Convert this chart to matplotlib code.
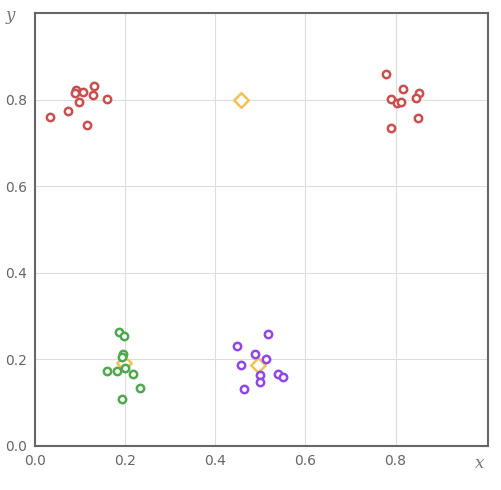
import matplotlib.pyplot as plt
import numpy as np

# cluster points
red_left_x = [0.033, 0.074, 0.091, 0.089, 0.107, 0.098, 0.131, 0.129, 0.159, 0.116]
red_left_y = [0.759, 0.774, 0.822, 0.815, 0.817, 0.795, 0.831, 0.811, 0.802, 0.741]
red_right_x = [0.778, 0.817, 0.852, 0.846, 0.789, 0.803, 0.811, 0.850, 0.791]
red_right_y = [0.859, 0.825, 0.815, 0.804, 0.802, 0.791, 0.795, 0.758, 0.735]
green_x = [0.187, 0.198, 0.196, 0.194, 0.160, 0.182, 0.199, 0.217, 0.233, 0.192]
green_y = [0.263, 0.255, 0.212, 0.205, 0.173, 0.173, 0.181, 0.166, 0.135, 0.109]
purple_x = [0.517, 0.449, 0.489, 0.512, 0.457, 0.499, 0.500, 0.539, 0.551, 0.463]
purple_y = [0.259, 0.231, 0.213, 0.202, 0.186, 0.163, 0.148, 0.166, 0.160, 0.132]
# centroids
cent_x = [0.457, 0.198, 0.495]
cent_y = [0.798, 0.191, 0.187]

ticks = [0.0, 0.2, 0.4, 0.6, 0.8]

fig = plt.figure(figsize=(5.02, 4.90), dpi=100)
ax = fig.add_axes([0.0697, 0.0898, 0.9023, 0.8837])

ax.scatter(cent_x, cent_y, marker='D', s=55, facecolors='white',
           edgecolors='#f0c256', linewidths=1.8, zorder=2)
ax.scatter(red_left_x + red_right_x, red_left_y + red_right_y, s=28,
           facecolors='white', edgecolors='#c9504f', linewidths=1.8, zorder=3)
ax.scatter(green_x, green_y, s=28, facecolors='white',
           edgecolors='#4fa84f', linewidths=1.8, zorder=3)
ax.scatter(purple_x, purple_y, s=28, facecolors='white',
           edgecolors='#9147e6', linewidths=1.8, zorder=3)

ax.set_xlim(0, 1.005)
ax.set_ylim(0, 1.0)
ax.set_xticks(ticks)
ax.set_yticks(ticks)
ax.set_xticklabels([f'{t:.1f}' for t in ticks])
ax.set_yticklabels([f'{t:.1f}' for t in ticks])
ax.tick_params(length=0, labelsize=10, colors='#666666', pad=6)
ax.grid(True, color='#dddddd', linewidth=0.8)
ax.set_axisbelow(True)
for s in ax.spines.values():
    s.set_color('#666666')
    s.set_linewidth(1.5)

fig.text(480 / 502, 1 - 463 / 490, 'x', fontsize=12, color='#777777',
         family='DejaVu Serif', style='italic', ha='center', va='center')
fig.text(10 / 502, 1 - 15 / 490, 'y', fontsize=12, color='#777777',
         family='DejaVu Serif', style='italic', ha='center', va='center')

fig.savefig('out.png', dpi=100)
